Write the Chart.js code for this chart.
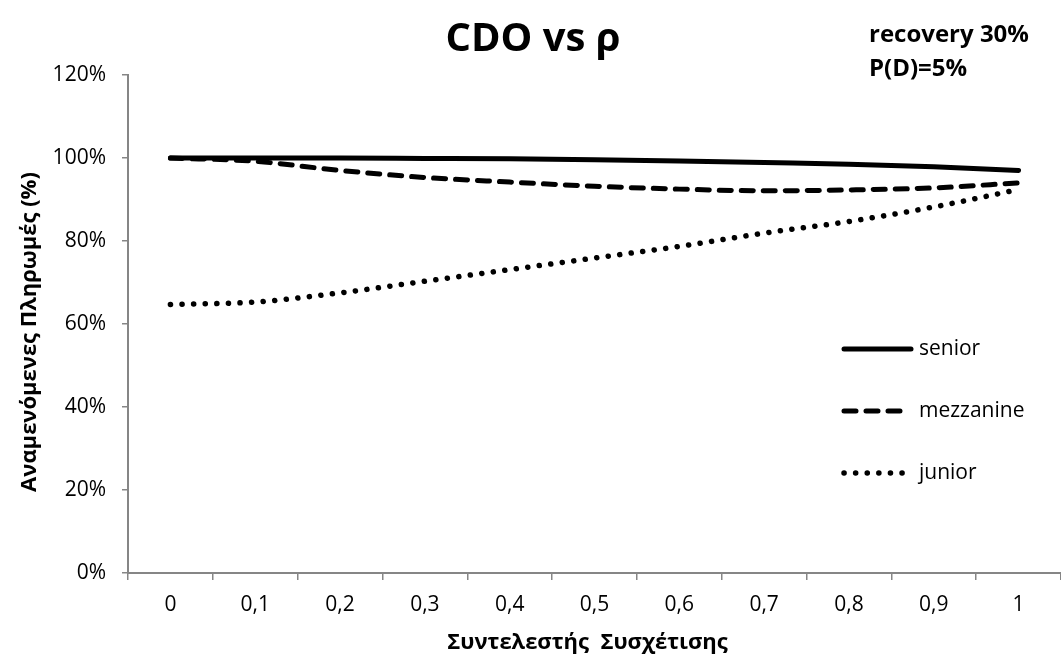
<!DOCTYPE html>
<html>
<head>
<meta charset="utf-8">
<script src="https://cdn.jsdelivr.net/npm/chart.js@4"></script>
<style>
  html, body { margin: 0; padding: 0; background: #fff; }
  #wrap { width: 1061px; height: 661px; position: relative; }
</style>
</head>
<body>
<div id="wrap"><canvas id="myChart"></canvas></div>
<script>
// Δεδομένα: συντελεστής συσχέτισης ρ και αναμενόμενες πληρωμές (%)
const rhoLabels = ["0", "0,1", "0,2", "0,3", "0,4", "0,5", "0,6", "0,7", "0,8", "0,9", "1"];
const seniorValues = [100, 100, 100, 99.9, 99.8, 99.6, 99.3, 98.9, 98.5, 97.9, 97.0];
const mezzanineValues = [100, 99.2, 97.0, 95.3, 94.2, 93.2, 92.5, 92.1, 92.3, 92.8, 94.0];
const juniorValues = [64.7, 65.3, 67.5, 70.3, 73.1, 75.9, 78.7, 81.9, 84.7, 88.2, 92.4];
const yTicks = [0, 20, 40, 60, 80, 100, 120];

const FONT = "'Open Sans', 'Noto Sans', sans-serif";
const AXIS_GREY = "#868686";

const legendItems = [
    { label: "senior", dash: [], width: 5 },
    { label: "mezzanine", dash: [12, 10], width: 5 },
    { label: "junior", dash: [0.1, 11.5], width: 5.5 }
];

// Textos y leyenda dibujados a mano sobre el canvas
const extrasPlugin = {
    id: "extras",
    afterDraw(chart) {
        const c = chart.ctx;
        const area = chart.chartArea;
        c.save();
        c.fillStyle = "#000";
        c.textBaseline = "middle";

        c.font = "bold 40px " + FONT;
        c.textAlign = "center";
        c.fillText("CDO vs ρ", 533, 40);

        c.font = "bold 24px " + FONT;
        c.textAlign = "left";
        c.fillText("recovery 30%", 869, 35);
        c.fillText("P(D)=5%", 869, 69);

        c.font = "bold 22px " + FONT;
        c.textAlign = "center";
        c.fillText("Συντελεστής  Συσχέτισης", (area.left + area.right) / 2 - 7, 643);

        c.save();
        c.translate(30, 332);
        c.rotate(-Math.PI / 2);
        c.fillText("Αναμενόμενες Πληρωμές (%)", 0, 0);
        c.restore();

        // leyenda
        c.font = "21px " + FONT;
        c.textAlign = "left";
        legendItems.forEach((item, i) => {
            const y = 349 + i * 62;
            c.beginPath();
            c.lineWidth = item.width;
            c.lineCap = "round";
            c.setLineDash(item.dash);
            c.strokeStyle = "#000";
            c.moveTo(844, y);
            c.lineTo(item.dash.length ? 904 : 911, y);
            c.stroke();
            c.setLineDash([]);
            c.fillText(item.label, 919, y);
        });
        c.restore();
    }
};

function makeSeries(label, data, dash, width) {
    return {
        label: label,
        data: data,
        borderColor: "#000",
        backgroundColor: "#000",
        borderWidth: width,
        borderDash: dash,
        borderCapStyle: "round",
        cubicInterpolationMode: "monotone",
        pointRadius: 0,
        pointHoverRadius: 0,
        fill: false
    };
}

const ctx = document.getElementById("myChart").getContext("2d");
const myChart = new Chart(ctx, {
    type: "line",
    data: {
        labels: rhoLabels,
        datasets: [
            makeSeries("senior", seniorValues, [], 5),
            makeSeries("mezzanine", mezzanineValues, [12, 10], 5),
            makeSeries("junior", juniorValues, [0.1, 11.5], 5.5)
        ]
    },
    options: {
        responsive: true,
        maintainAspectRatio: false,
        animation: false,
        layout: { padding: { top: 75, right: 0, left: 0, bottom: 0 } },
        plugins: {
            legend: { display: false },
            title: { display: false },
            tooltip: { enabled: false }
        },
        scales: {
            x: {
                offset: true,
                grid: {
                    offset: true,
                    drawOnChartArea: false,
                    tickLength: 7,
                    color: AXIS_GREY,
                    lineWidth: 1.5
                },
                border: { color: AXIS_GREY, width: 2 },
                ticks: {
                    color: "#000",
                    padding: 12,
                    maxRotation: 0,
                    font: { family: FONT, size: 21 }
                },
                afterFit: (scale) => { scale.height = 88; }
            },
            y: {
                min: 0,
                max: 120,
                afterBuildTicks: (scale) => { scale.ticks = yTicks.map(v => ({ value: v })); },
                grid: {
                    drawOnChartArea: false,
                    tickLength: 6,
                    color: AXIS_GREY,
                    lineWidth: 1.5
                },
                border: { color: AXIS_GREY, width: 2 },
                ticks: {
                    color: "#000",
                    padding: 16,
                    font: { family: FONT, size: 21 },
                    callback: (v) => v + "%"
                },
                afterFit: (scale) => { scale.width = 128; }
            }
        }
    },
    plugins: [extrasPlugin]
});
</script>
</body>
</html>
